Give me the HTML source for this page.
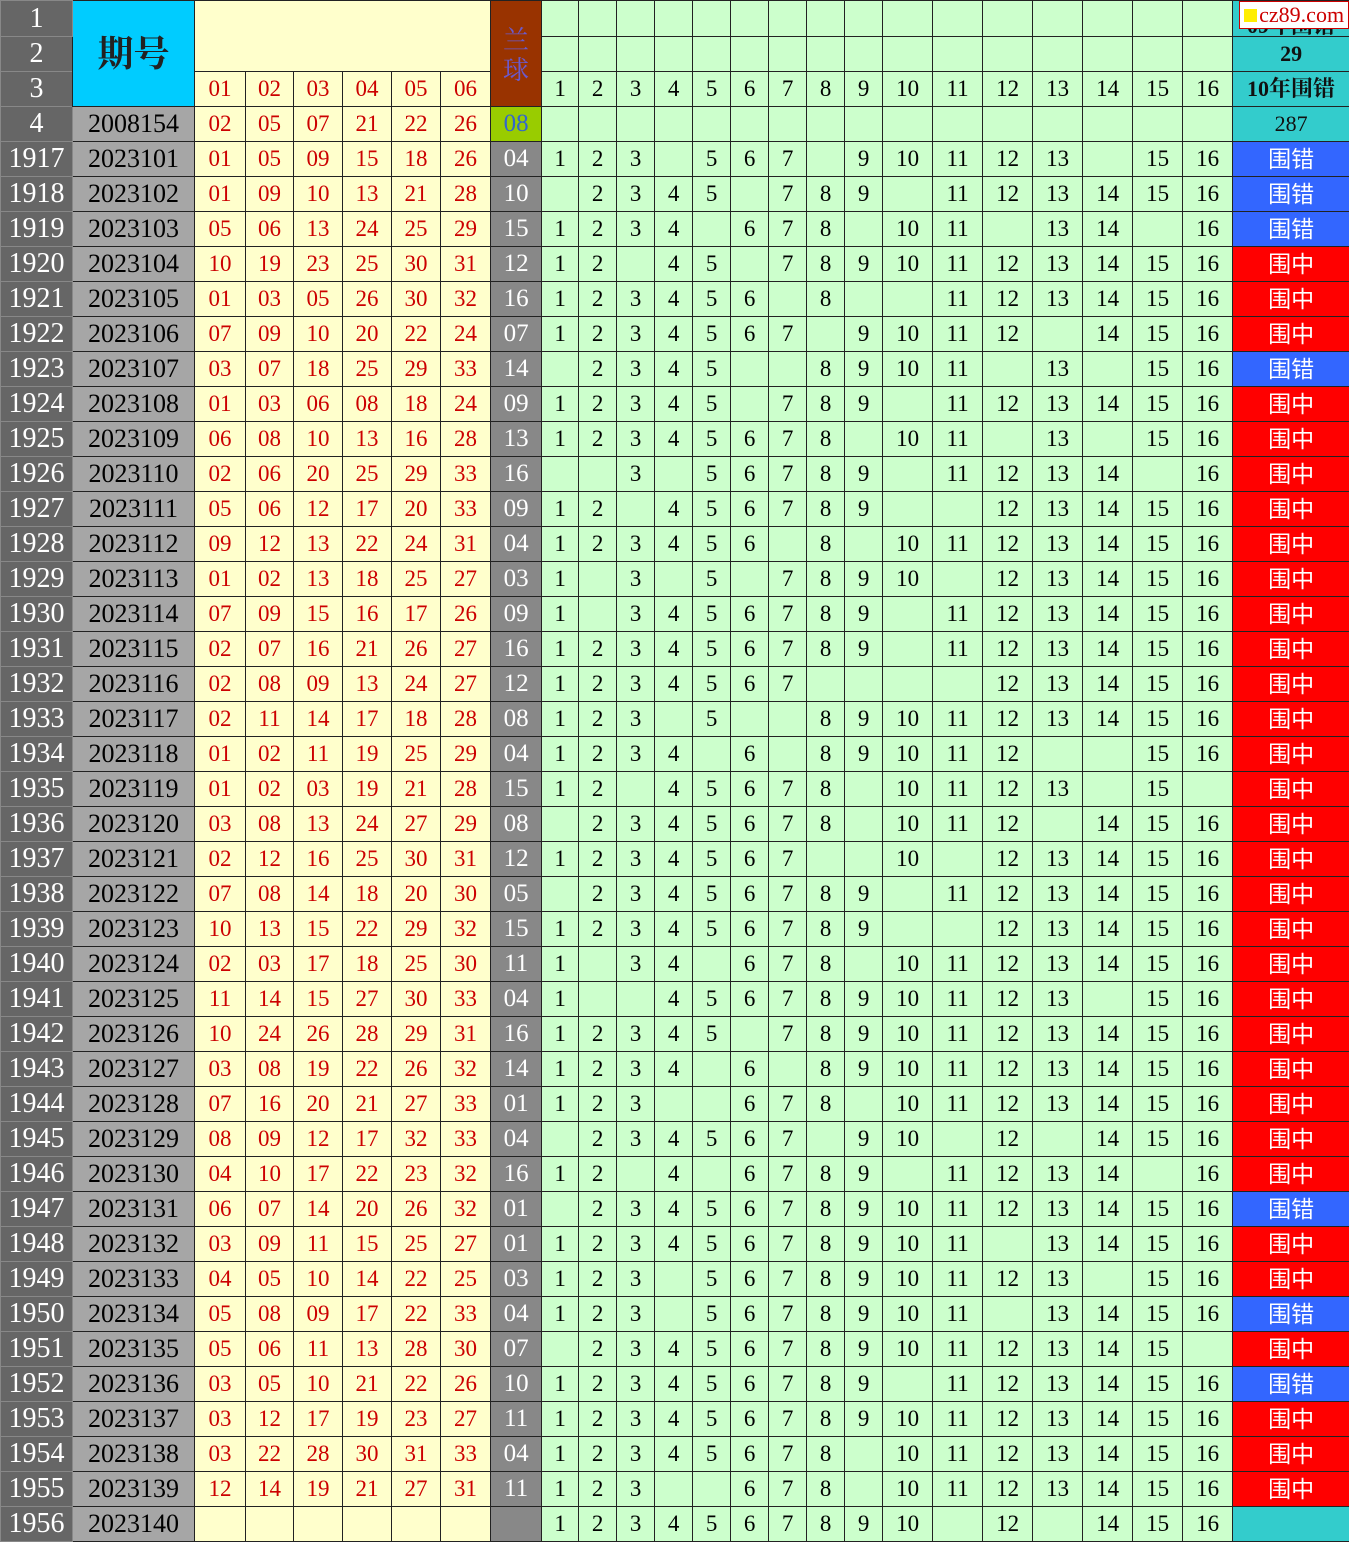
<!DOCTYPE html>
<html><head><meta charset="utf-8"><style>
body{margin:0;background:#fff;}
table{border-collapse:collapse;table-layout:fixed;width:1349px;font-family:"Liberation Serif","Noto Serif CJK SC",serif;}
td{border:1px solid #222;padding:0;text-align:center;vertical-align:middle;height:34px;font-size:23px;line-height:34px;overflow:hidden;white-space:nowrap;}
tr.d td{background:#ccffcc;color:#000;}
tr.d td:nth-child(1){background:#666;color:#fff;font-size:28px;border-color:#888;}
tr.d td:nth-child(2){background:#a6a6a6;color:#000;font-size:26px;}
tr.d td:nth-child(n+3):nth-child(-n+8){background:#ffffcc;color:#cc0000;}
tr.d td:nth-child(9){background:#888;color:#fff;font-size:25px;}
tr.d td:nth-child(26){color:#fff;font-family:"Liberation Sans","Noto Sans CJK SC",sans-serif;font-size:23px;}
td.m{background:#ff0000 !important;}
td.w{background:#3366ff !important;}
td.c{background:#33cccc !important;}
.h td{background:#ccffcc;}
.h td.l{background:#666;color:#fff;font-size:28px;border-color:#888;}
.h td.y{background:#ffffcc;color:#cc0000;}
.h td.z{background:#33cccc;color:#111;font-weight:bold;font-size:22px;font-family:"Liberation Serif","Noto Serif CJK SC",serif;}
</style></head><body>
<table>
<colgroup><col style="width:72px"><col style="width:122px"><col style="width:51px"><col style="width:48px"><col style="width:49px"><col style="width:49px"><col style="width:49px"><col style="width:50px"><col style="width:51px"><col style="width:37px"><col style="width:38px"><col style="width:38px"><col style="width:38px"><col style="width:38px"><col style="width:38px"><col style="width:38px"><col style="width:38px"><col style="width:38px"><col style="width:50px"><col style="width:50px"><col style="width:50px"><col style="width:50px"><col style="width:50px"><col style="width:50px"><col style="width:50px"><col style="width:117px"></colgroup>
<tr class="h" style="height:36px"><td class="l">1</td><td rowspan="3" style="background:#00ccff;font-size:36px;font-weight:bold;color:#222;font-family:'Liberation Serif','Noto Serif CJK SC',serif">期号</td><td class="y" colspan="6" rowspan="2" style="border-bottom:1px solid #222"></td><td rowspan="3" style="background:#993300;color:#6a5acd;font-size:26px;line-height:30px;white-space:normal;font-family:'Noto Serif CJK SC',serif">兰<br>球</td><td></td><td></td><td></td><td></td><td></td><td></td><td></td><td></td><td></td><td></td><td></td><td></td><td></td><td></td><td></td><td></td><td class="z" style="position:relative;line-height:20px;vertical-align:bottom">09年围错<span style="position:absolute;right:0;top:0;background:#fff;color:#c00;font-weight:normal;font-size:22px;line-height:26px;padding:0 4px;border:1px solid #c00"><span style="display:inline-block;width:13px;height:13px;background:#ffee00;margin-right:2px"></span>cz89.com</span></td></tr>
<tr class="h"><td class="l">2</td><td></td><td></td><td></td><td></td><td></td><td></td><td></td><td></td><td></td><td></td><td></td><td></td><td></td><td></td><td></td><td></td><td class="z">29</td></tr>
<tr class="h"><td class="l">3</td><td class="y">01</td><td class="y">02</td><td class="y">03</td><td class="y">04</td><td class="y">05</td><td class="y">06</td><td>1</td><td>2</td><td>3</td><td>4</td><td>5</td><td>6</td><td>7</td><td>8</td><td>9</td><td>10</td><td>11</td><td>12</td><td>13</td><td>14</td><td>15</td><td>16</td><td class="z">10年围错</td></tr>
<tr class="h"><td class="l">4</td><td style="background:#a6a6a6;font-size:26px">2008154</td><td class="y">02</td><td class="y">05</td><td class="y">07</td><td class="y">21</td><td class="y">22</td><td class="y">26</td><td style="background:#99cc00;color:#3366cc;font-size:25px">08</td><td></td><td></td><td></td><td></td><td></td><td></td><td></td><td></td><td></td><td></td><td></td><td></td><td></td><td></td><td></td><td></td><td class="z" style="font-weight:normal">287</td></tr>
<tr class="d"><td>1917</td><td>2023101</td><td>01</td><td>05</td><td>09</td><td>15</td><td>18</td><td>26</td><td>04</td><td>1</td><td>2</td><td>3</td><td></td><td>5</td><td>6</td><td>7</td><td></td><td>9</td><td>10</td><td>11</td><td>12</td><td>13</td><td></td><td>15</td><td>16</td><td class="w">围错</td></tr>
<tr class="d"><td>1918</td><td>2023102</td><td>01</td><td>09</td><td>10</td><td>13</td><td>21</td><td>28</td><td>10</td><td></td><td>2</td><td>3</td><td>4</td><td>5</td><td></td><td>7</td><td>8</td><td>9</td><td></td><td>11</td><td>12</td><td>13</td><td>14</td><td>15</td><td>16</td><td class="w">围错</td></tr>
<tr class="d"><td>1919</td><td>2023103</td><td>05</td><td>06</td><td>13</td><td>24</td><td>25</td><td>29</td><td>15</td><td>1</td><td>2</td><td>3</td><td>4</td><td></td><td>6</td><td>7</td><td>8</td><td></td><td>10</td><td>11</td><td></td><td>13</td><td>14</td><td></td><td>16</td><td class="w">围错</td></tr>
<tr class="d"><td>1920</td><td>2023104</td><td>10</td><td>19</td><td>23</td><td>25</td><td>30</td><td>31</td><td>12</td><td>1</td><td>2</td><td></td><td>4</td><td>5</td><td></td><td>7</td><td>8</td><td>9</td><td>10</td><td>11</td><td>12</td><td>13</td><td>14</td><td>15</td><td>16</td><td class="m">围中</td></tr>
<tr class="d"><td>1921</td><td>2023105</td><td>01</td><td>03</td><td>05</td><td>26</td><td>30</td><td>32</td><td>16</td><td>1</td><td>2</td><td>3</td><td>4</td><td>5</td><td>6</td><td></td><td>8</td><td></td><td></td><td>11</td><td>12</td><td>13</td><td>14</td><td>15</td><td>16</td><td class="m">围中</td></tr>
<tr class="d"><td>1922</td><td>2023106</td><td>07</td><td>09</td><td>10</td><td>20</td><td>22</td><td>24</td><td>07</td><td>1</td><td>2</td><td>3</td><td>4</td><td>5</td><td>6</td><td>7</td><td></td><td>9</td><td>10</td><td>11</td><td>12</td><td></td><td>14</td><td>15</td><td>16</td><td class="m">围中</td></tr>
<tr class="d"><td>1923</td><td>2023107</td><td>03</td><td>07</td><td>18</td><td>25</td><td>29</td><td>33</td><td>14</td><td></td><td>2</td><td>3</td><td>4</td><td>5</td><td></td><td></td><td>8</td><td>9</td><td>10</td><td>11</td><td></td><td>13</td><td></td><td>15</td><td>16</td><td class="w">围错</td></tr>
<tr class="d"><td>1924</td><td>2023108</td><td>01</td><td>03</td><td>06</td><td>08</td><td>18</td><td>24</td><td>09</td><td>1</td><td>2</td><td>3</td><td>4</td><td>5</td><td></td><td>7</td><td>8</td><td>9</td><td></td><td>11</td><td>12</td><td>13</td><td>14</td><td>15</td><td>16</td><td class="m">围中</td></tr>
<tr class="d"><td>1925</td><td>2023109</td><td>06</td><td>08</td><td>10</td><td>13</td><td>16</td><td>28</td><td>13</td><td>1</td><td>2</td><td>3</td><td>4</td><td>5</td><td>6</td><td>7</td><td>8</td><td></td><td>10</td><td>11</td><td></td><td>13</td><td></td><td>15</td><td>16</td><td class="m">围中</td></tr>
<tr class="d"><td>1926</td><td>2023110</td><td>02</td><td>06</td><td>20</td><td>25</td><td>29</td><td>33</td><td>16</td><td></td><td></td><td>3</td><td></td><td>5</td><td>6</td><td>7</td><td>8</td><td>9</td><td></td><td>11</td><td>12</td><td>13</td><td>14</td><td></td><td>16</td><td class="m">围中</td></tr>
<tr class="d"><td>1927</td><td>2023111</td><td>05</td><td>06</td><td>12</td><td>17</td><td>20</td><td>33</td><td>09</td><td>1</td><td>2</td><td></td><td>4</td><td>5</td><td>6</td><td>7</td><td>8</td><td>9</td><td></td><td></td><td>12</td><td>13</td><td>14</td><td>15</td><td>16</td><td class="m">围中</td></tr>
<tr class="d"><td>1928</td><td>2023112</td><td>09</td><td>12</td><td>13</td><td>22</td><td>24</td><td>31</td><td>04</td><td>1</td><td>2</td><td>3</td><td>4</td><td>5</td><td>6</td><td></td><td>8</td><td></td><td>10</td><td>11</td><td>12</td><td>13</td><td>14</td><td>15</td><td>16</td><td class="m">围中</td></tr>
<tr class="d"><td>1929</td><td>2023113</td><td>01</td><td>02</td><td>13</td><td>18</td><td>25</td><td>27</td><td>03</td><td>1</td><td></td><td>3</td><td></td><td>5</td><td></td><td>7</td><td>8</td><td>9</td><td>10</td><td></td><td>12</td><td>13</td><td>14</td><td>15</td><td>16</td><td class="m">围中</td></tr>
<tr class="d"><td>1930</td><td>2023114</td><td>07</td><td>09</td><td>15</td><td>16</td><td>17</td><td>26</td><td>09</td><td>1</td><td></td><td>3</td><td>4</td><td>5</td><td>6</td><td>7</td><td>8</td><td>9</td><td></td><td>11</td><td>12</td><td>13</td><td>14</td><td>15</td><td>16</td><td class="m">围中</td></tr>
<tr class="d"><td>1931</td><td>2023115</td><td>02</td><td>07</td><td>16</td><td>21</td><td>26</td><td>27</td><td>16</td><td>1</td><td>2</td><td>3</td><td>4</td><td>5</td><td>6</td><td>7</td><td>8</td><td>9</td><td></td><td>11</td><td>12</td><td>13</td><td>14</td><td>15</td><td>16</td><td class="m">围中</td></tr>
<tr class="d"><td>1932</td><td>2023116</td><td>02</td><td>08</td><td>09</td><td>13</td><td>24</td><td>27</td><td>12</td><td>1</td><td>2</td><td>3</td><td>4</td><td>5</td><td>6</td><td>7</td><td></td><td></td><td></td><td></td><td>12</td><td>13</td><td>14</td><td>15</td><td>16</td><td class="m">围中</td></tr>
<tr class="d"><td>1933</td><td>2023117</td><td>02</td><td>11</td><td>14</td><td>17</td><td>18</td><td>28</td><td>08</td><td>1</td><td>2</td><td>3</td><td></td><td>5</td><td></td><td></td><td>8</td><td>9</td><td>10</td><td>11</td><td>12</td><td>13</td><td>14</td><td>15</td><td>16</td><td class="m">围中</td></tr>
<tr class="d"><td>1934</td><td>2023118</td><td>01</td><td>02</td><td>11</td><td>19</td><td>25</td><td>29</td><td>04</td><td>1</td><td>2</td><td>3</td><td>4</td><td></td><td>6</td><td></td><td>8</td><td>9</td><td>10</td><td>11</td><td>12</td><td></td><td></td><td>15</td><td>16</td><td class="m">围中</td></tr>
<tr class="d"><td>1935</td><td>2023119</td><td>01</td><td>02</td><td>03</td><td>19</td><td>21</td><td>28</td><td>15</td><td>1</td><td>2</td><td></td><td>4</td><td>5</td><td>6</td><td>7</td><td>8</td><td></td><td>10</td><td>11</td><td>12</td><td>13</td><td></td><td>15</td><td></td><td class="m">围中</td></tr>
<tr class="d"><td>1936</td><td>2023120</td><td>03</td><td>08</td><td>13</td><td>24</td><td>27</td><td>29</td><td>08</td><td></td><td>2</td><td>3</td><td>4</td><td>5</td><td>6</td><td>7</td><td>8</td><td></td><td>10</td><td>11</td><td>12</td><td></td><td>14</td><td>15</td><td>16</td><td class="m">围中</td></tr>
<tr class="d"><td>1937</td><td>2023121</td><td>02</td><td>12</td><td>16</td><td>25</td><td>30</td><td>31</td><td>12</td><td>1</td><td>2</td><td>3</td><td>4</td><td>5</td><td>6</td><td>7</td><td></td><td></td><td>10</td><td></td><td>12</td><td>13</td><td>14</td><td>15</td><td>16</td><td class="m">围中</td></tr>
<tr class="d"><td>1938</td><td>2023122</td><td>07</td><td>08</td><td>14</td><td>18</td><td>20</td><td>30</td><td>05</td><td></td><td>2</td><td>3</td><td>4</td><td>5</td><td>6</td><td>7</td><td>8</td><td>9</td><td></td><td>11</td><td>12</td><td>13</td><td>14</td><td>15</td><td>16</td><td class="m">围中</td></tr>
<tr class="d"><td>1939</td><td>2023123</td><td>10</td><td>13</td><td>15</td><td>22</td><td>29</td><td>32</td><td>15</td><td>1</td><td>2</td><td>3</td><td>4</td><td>5</td><td>6</td><td>7</td><td>8</td><td>9</td><td></td><td></td><td>12</td><td>13</td><td>14</td><td>15</td><td>16</td><td class="m">围中</td></tr>
<tr class="d"><td>1940</td><td>2023124</td><td>02</td><td>03</td><td>17</td><td>18</td><td>25</td><td>30</td><td>11</td><td>1</td><td></td><td>3</td><td>4</td><td></td><td>6</td><td>7</td><td>8</td><td></td><td>10</td><td>11</td><td>12</td><td>13</td><td>14</td><td>15</td><td>16</td><td class="m">围中</td></tr>
<tr class="d"><td>1941</td><td>2023125</td><td>11</td><td>14</td><td>15</td><td>27</td><td>30</td><td>33</td><td>04</td><td>1</td><td></td><td></td><td>4</td><td>5</td><td>6</td><td>7</td><td>8</td><td>9</td><td>10</td><td>11</td><td>12</td><td>13</td><td></td><td>15</td><td>16</td><td class="m">围中</td></tr>
<tr class="d"><td>1942</td><td>2023126</td><td>10</td><td>24</td><td>26</td><td>28</td><td>29</td><td>31</td><td>16</td><td>1</td><td>2</td><td>3</td><td>4</td><td>5</td><td></td><td>7</td><td>8</td><td>9</td><td>10</td><td>11</td><td>12</td><td>13</td><td>14</td><td>15</td><td>16</td><td class="m">围中</td></tr>
<tr class="d"><td>1943</td><td>2023127</td><td>03</td><td>08</td><td>19</td><td>22</td><td>26</td><td>32</td><td>14</td><td>1</td><td>2</td><td>3</td><td>4</td><td></td><td>6</td><td></td><td>8</td><td>9</td><td>10</td><td>11</td><td>12</td><td>13</td><td>14</td><td>15</td><td>16</td><td class="m">围中</td></tr>
<tr class="d"><td>1944</td><td>2023128</td><td>07</td><td>16</td><td>20</td><td>21</td><td>27</td><td>33</td><td>01</td><td>1</td><td>2</td><td>3</td><td></td><td></td><td>6</td><td>7</td><td>8</td><td></td><td>10</td><td>11</td><td>12</td><td>13</td><td>14</td><td>15</td><td>16</td><td class="m">围中</td></tr>
<tr class="d"><td>1945</td><td>2023129</td><td>08</td><td>09</td><td>12</td><td>17</td><td>32</td><td>33</td><td>04</td><td></td><td>2</td><td>3</td><td>4</td><td>5</td><td>6</td><td>7</td><td></td><td>9</td><td>10</td><td></td><td>12</td><td></td><td>14</td><td>15</td><td>16</td><td class="m">围中</td></tr>
<tr class="d"><td>1946</td><td>2023130</td><td>04</td><td>10</td><td>17</td><td>22</td><td>23</td><td>32</td><td>16</td><td>1</td><td>2</td><td></td><td>4</td><td></td><td>6</td><td>7</td><td>8</td><td>9</td><td></td><td>11</td><td>12</td><td>13</td><td>14</td><td></td><td>16</td><td class="m">围中</td></tr>
<tr class="d"><td>1947</td><td>2023131</td><td>06</td><td>07</td><td>14</td><td>20</td><td>26</td><td>32</td><td>01</td><td></td><td>2</td><td>3</td><td>4</td><td>5</td><td>6</td><td>7</td><td>8</td><td>9</td><td>10</td><td>11</td><td>12</td><td>13</td><td>14</td><td>15</td><td>16</td><td class="w">围错</td></tr>
<tr class="d"><td>1948</td><td>2023132</td><td>03</td><td>09</td><td>11</td><td>15</td><td>25</td><td>27</td><td>01</td><td>1</td><td>2</td><td>3</td><td>4</td><td>5</td><td>6</td><td>7</td><td>8</td><td>9</td><td>10</td><td>11</td><td></td><td>13</td><td>14</td><td>15</td><td>16</td><td class="m">围中</td></tr>
<tr class="d"><td>1949</td><td>2023133</td><td>04</td><td>05</td><td>10</td><td>14</td><td>22</td><td>25</td><td>03</td><td>1</td><td>2</td><td>3</td><td></td><td>5</td><td>6</td><td>7</td><td>8</td><td>9</td><td>10</td><td>11</td><td>12</td><td>13</td><td></td><td>15</td><td>16</td><td class="m">围中</td></tr>
<tr class="d"><td>1950</td><td>2023134</td><td>05</td><td>08</td><td>09</td><td>17</td><td>22</td><td>33</td><td>04</td><td>1</td><td>2</td><td>3</td><td></td><td>5</td><td>6</td><td>7</td><td>8</td><td>9</td><td>10</td><td>11</td><td></td><td>13</td><td>14</td><td>15</td><td>16</td><td class="w">围错</td></tr>
<tr class="d"><td>1951</td><td>2023135</td><td>05</td><td>06</td><td>11</td><td>13</td><td>28</td><td>30</td><td>07</td><td></td><td>2</td><td>3</td><td>4</td><td>5</td><td>6</td><td>7</td><td>8</td><td>9</td><td>10</td><td>11</td><td>12</td><td>13</td><td>14</td><td>15</td><td></td><td class="m">围中</td></tr>
<tr class="d"><td>1952</td><td>2023136</td><td>03</td><td>05</td><td>10</td><td>21</td><td>22</td><td>26</td><td>10</td><td>1</td><td>2</td><td>3</td><td>4</td><td>5</td><td>6</td><td>7</td><td>8</td><td>9</td><td></td><td>11</td><td>12</td><td>13</td><td>14</td><td>15</td><td>16</td><td class="w">围错</td></tr>
<tr class="d"><td>1953</td><td>2023137</td><td>03</td><td>12</td><td>17</td><td>19</td><td>23</td><td>27</td><td>11</td><td>1</td><td>2</td><td>3</td><td>4</td><td>5</td><td>6</td><td>7</td><td>8</td><td>9</td><td>10</td><td>11</td><td>12</td><td>13</td><td>14</td><td>15</td><td>16</td><td class="m">围中</td></tr>
<tr class="d"><td>1954</td><td>2023138</td><td>03</td><td>22</td><td>28</td><td>30</td><td>31</td><td>33</td><td>04</td><td>1</td><td>2</td><td>3</td><td>4</td><td>5</td><td>6</td><td>7</td><td>8</td><td></td><td>10</td><td>11</td><td>12</td><td>13</td><td>14</td><td>15</td><td>16</td><td class="m">围中</td></tr>
<tr class="d"><td>1955</td><td>2023139</td><td>12</td><td>14</td><td>19</td><td>21</td><td>27</td><td>31</td><td>11</td><td>1</td><td>2</td><td>3</td><td></td><td></td><td>6</td><td>7</td><td>8</td><td></td><td>10</td><td>11</td><td>12</td><td>13</td><td>14</td><td>15</td><td>16</td><td class="m">围中</td></tr>
<tr class="d"><td>1956</td><td>2023140</td><td></td><td></td><td></td><td></td><td></td><td></td><td></td><td>1</td><td>2</td><td>3</td><td>4</td><td>5</td><td>6</td><td>7</td><td>8</td><td>9</td><td>10</td><td></td><td>12</td><td></td><td>14</td><td>15</td><td>16</td><td class="c"></td></tr>
</table>
</body></html>
